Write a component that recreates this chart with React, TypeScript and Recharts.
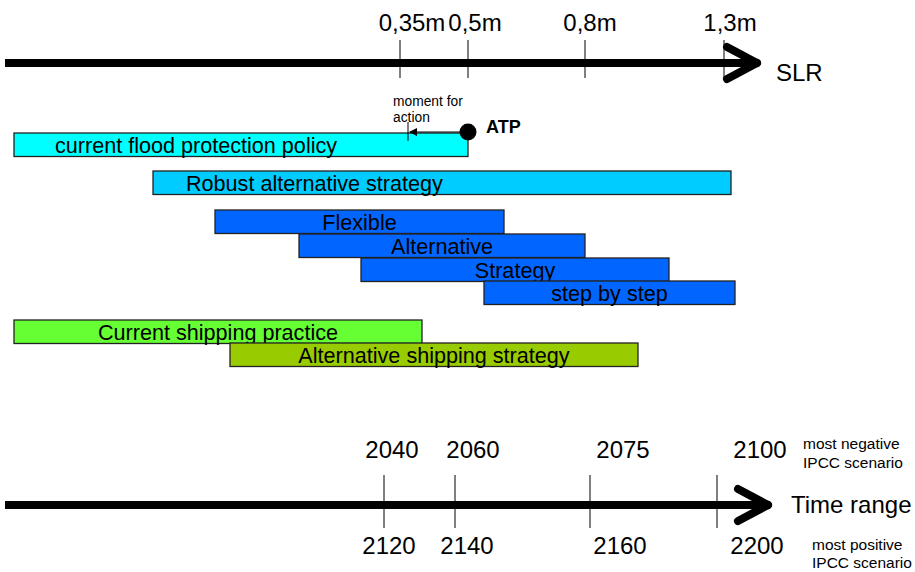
import React from 'react';
import { ComposedChart, XAxis, YAxis, Scatter, ReferenceArea, ReferenceLine, ReferenceDot } from 'recharts';

// horizontal scale: position along the timeline, vertical scale: lane position (top = 0)
const strategies = [
  'current flood protection policy',
  'Robust alternative strategy',
  'Flexible',
  'Alternative',
  'Strategy',
  'step by step',
  'Current shipping practice',
  'Alternative shipping strategy',
];
const strategyStart = [14, 153, 215, 299, 361, 484, 14, 230];
const strategyEnd = [468, 731, 504, 585, 669, 735, 422, 638];
const strategyLane = [133, 171, 210, 234, 258, 281, 320, 343];

const slrLabels = ['0,35m', '0,5m', '0,8m', '1,3m'];
const slrTicks = [400, 468, 585, 724];
const slrLabelAt = [412, 475, 590, 730];

const worstYears = ['2040', '2060', '2075', '2100'];
const bestYears = ['2120', '2140', '2160', '2200'];
const timeTicks = [384, 455, 590, 717];
const worstYearAt = [392, 473, 623, 760];
const bestYearAt = [389, 467, 620, 757];

const atpPoint = [{ x: 468, y: 132 }];
const momentForAction = 408;

const barColors = ['#00FFFF', '#00CCFF', '#0066FF', '#0066FF', '#0066FF', '#0066FF', '#66FF33', '#99CC00'];
const labelLeftPad: Record<number, number> = { 0: 41, 1: 33 };
const LANE_H = 23.5;
const FONT = '"Liberation Sans", Arial, sans-serif';

const caption = (key: string, x: number, y: number, text: string, size: number, anchor = 'middle', weight = 'normal') => (
  <ReferenceDot
    key={key}
    x={x}
    y={y}
    r={0}
    ifOverflow="visible"
    shape={(p: any) => (
      <text
        x={p.cx}
        y={p.cy}
        textAnchor={anchor}
        dominantBaseline="central"
        fontSize={size}
        fontWeight={weight}
        fontFamily={FONT}
        fill="#000"
      >
        {text}
      </text>
    )}
  />
);

const arrow = (key: string, y: number, end: number) => [
  <ReferenceLine key={key + 's'} segment={[{ x: 5, y }, { x: end - 5, y }]} stroke="#000" strokeWidth={8} ifOverflow="visible" />,
  <ReferenceLine key={key + 'a'} segment={[{ x: end - 30, y: y - 16 }, { x: end, y }]} stroke="#000" strokeWidth={8} strokeLinecap="round" ifOverflow="visible" />,
  <ReferenceLine key={key + 'b'} segment={[{ x: end - 30, y: y + 16 }, { x: end, y }]} stroke="#000" strokeWidth={8} strokeLinecap="round" ifOverflow="visible" />,
];

export default function App() {
  return (
    <div style={{ position: 'absolute', left: 0, top: 0, width: 915, height: 572, background: '#fff' }}>
      <ComposedChart width={915} height={572} margin={{ top: 0, right: 0, bottom: 0, left: 0 }}>
        <XAxis type="number" dataKey="x" domain={[0, 915]} hide />
        <YAxis type="number" dataKey="y" domain={[0, 572]} reversed hide />

        {strategies.map((name, i) => (
          <ReferenceArea
            key={name}
            x1={strategyStart[i]}
            x2={strategyEnd[i]}
            y1={strategyLane[i]}
            y2={strategyLane[i] + LANE_H}
            ifOverflow="visible"
            shape={(p: any) => {
              const left = labelLeftPad[i] !== undefined;
              return (
                <g>
                  <rect x={p.x} y={p.y} width={p.width} height={p.height} fill={barColors[i]} stroke="#222" strokeWidth={1.3} />
                  <text
                    x={left ? p.x + labelLeftPad[i] : p.x + p.width / 2}
                    y={p.y + p.height / 2 + 1}
                    textAnchor={left ? 'start' : 'middle'}
                    dominantBaseline="central"
                    fontSize={21.6}
                    fontFamily={FONT}
                    fill="#000"
                  >
                    {name}
                  </text>
                </g>
              );
            }}
          />
        ))}

        {/* SLR axis */}
        {arrow('slr', 63, 757)}
        {slrTicks.map((t, i) => (
          <ReferenceLine key={'st' + i} segment={[{ x: t, y: 40 }, { x: t, y: 78 }]} stroke="#000" strokeWidth={1} />
        ))}
        {slrLabels.map((l, i) => caption('sl' + i, slrLabelAt[i], 22, l, 24))}
        {caption('slr', 776, 72, 'SLR', 24, 'start')}

        {/* time axis */}
        {arrow('time', 505, 768)}
        {timeTicks.map((t, i) => (
          <ReferenceLine key={'tt' + i} segment={[{ x: t, y: 475 }, { x: t, y: 528 }]} stroke="#000" strokeWidth={1} />
        ))}
        {worstYears.map((l, i) => caption('wy' + i, worstYearAt[i], 449, l, 24))}
        {bestYears.map((l, i) => caption('by' + i, bestYearAt[i], 545, l, 24))}
        {caption('tr', 791, 504, 'Time range', 24, 'start')}
        {caption('mn1', 803, 443, 'most negative', 15.5, 'start')}
        {caption('mn2', 803, 462, 'IPCC scenario', 15.5, 'start')}
        {caption('mp1', 812, 544, 'most positive', 15.5, 'start')}
        {caption('mp2', 812, 562, 'IPCC scenario', 15.5, 'start')}

        {/* moment for action / ATP */}
        <ReferenceLine segment={[{ x: momentForAction + 2, y: 132 }, { x: atpPoint[0].x, y: 132 }]} stroke="#000" strokeWidth={1} />
        <ReferenceLine segment={[{ x: momentForAction, y: 122 }, { x: momentForAction, y: 141 }]} stroke="#000" strokeWidth={1} />
        <ReferenceDot
          x={momentForAction + 1}
          y={132}
          r={0}
          shape={(p: any) => (
            <polygon points={`${p.cx},${p.cy} ${p.cx + 8},${p.cy - 4} ${p.cx + 8},${p.cy + 4}`} fill="#000" />
          )}
        />
        {caption('mfa1', 393, 101, 'moment for', 13.8, 'start')}
        {caption('mfa2', 393, 117, 'action', 13.8, 'start')}
        {caption('atp', 486, 127, 'ATP', 18, 'start', 'bold')}
        <Scatter
          data={atpPoint}
          isAnimationActive={false}
          shape={(p: any) => <circle cx={p.cx} cy={p.cy} r={8.5} fill="#000" />}
        />
      </ComposedChart>
    </div>
  );
}
